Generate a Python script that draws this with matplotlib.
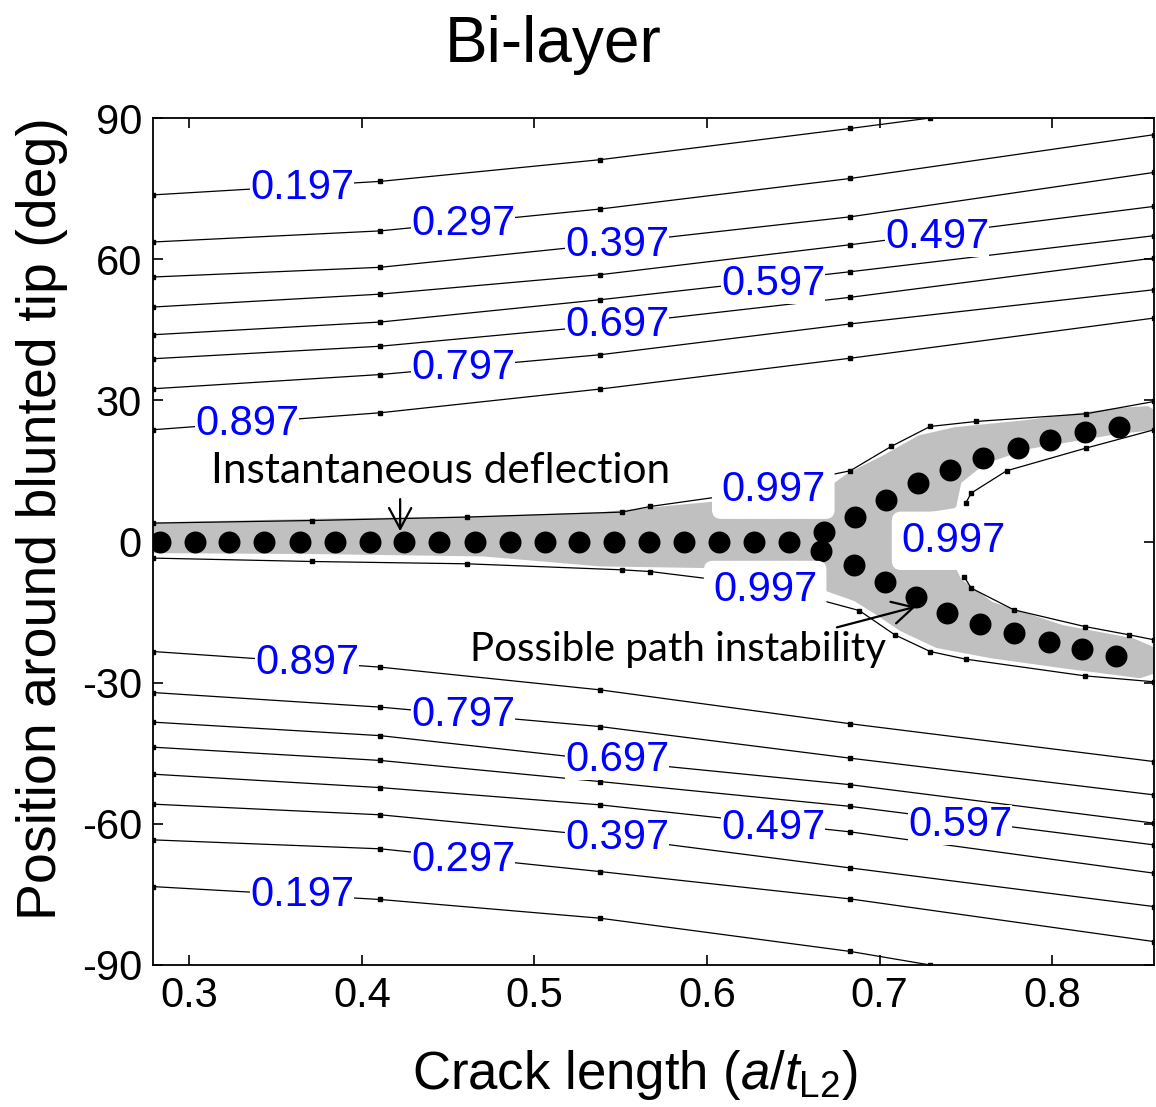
import numpy as np
import matplotlib
matplotlib.use("Agg")
import matplotlib.pyplot as plt
from matplotlib.patches import Polygon

plt.rcParams['font.family'] = ['Liberation Sans', 'DejaVu Sans']
plt.rcParams['mathtext.fontset'] = 'custom'
plt.rcParams['mathtext.rm'] = 'Liberation Sans'
plt.rcParams['mathtext.it'] = 'Liberation Sans:italic'
plt.rcParams['axes.unicode_minus'] = False

# --- contour lines ---
line_x = [0.2791, 0.4107, 0.5381, 0.6830, 0.8591]
top_x = [0.2791, 0.4107, 0.5381, 0.6830, 0.7293]   # lines that leave through top / bottom

upper_y = {
    '0.197': [73.66, 76.53, 81.14, 87.78, 90.0],
    '0.297': [63.65, 66.01, 70.66, 77.15, 86.46],
    '0.397': [56.21, 58.27, 63.07, 69.00, 78.44],
    '0.497': [49.83, 52.57, 56.70, 63.07, 71.22],
    '0.597': [43.94, 46.64, 51.38, 57.33, 64.99],
    '0.697': [38.84, 41.50, 45.85, 51.89, 60.25],
    '0.797': [32.46, 35.48, 39.69, 46.24, 53.51],
    '0.897': [23.75, 27.36, 32.40, 38.95, 47.49],
}
lower_y = {
    '0.897': [-23.38, -26.70, -31.53, -38.73, -46.77],
    '0.797': [-32.10, -35.20, -39.33, -46.05, -53.85],
    '0.697': [-38.39, -41.26, -46.41, -51.68, -59.86],
    '0.597': [-43.71, -46.53, -51.02, -56.29, -64.48],
    '0.497': [-49.45, -52.30, -55.97, -61.71, -70.49],
    '0.397': [-55.82, -58.08, -62.56, -69.37, -77.59],
    '0.297': [-63.41, -65.31, -70.15, -75.96, -85.03],
    '0.197': [-73.34, -76.08, -80.06, -87.12, -90.0],
}

# 0.997 contour pieces
c997_up_x = [0.2791, 0.3711, 0.4609, 0.5507, 0.5671, 0.6152, 0.6830, 0.7067, 0.7293, 0.7560, 0.8197, 0.8591]
c997_up_y = [3.91, 4.46, 5.19, 6.25, 7.44, 9.93, 15.03, 20.20, 24.45, 25.51, 27.15, 29.76]
c997_in1_x = [0.8591, 0.8197, 0.7736, 0.7531, 0.7499]
c997_in1_y = [23.75, 19.86, 15.03, 10.29, 8.16]
c997_in2_x = [0.7489, 0.7531, 0.7778, 0.8189, 0.8446, 0.8591]
c997_in2_y = [-7.44, -9.91, -14.52, -18.07, -19.83, -20.90]
c997_lo_x = [0.2791, 0.3711, 0.4609, 0.5507, 0.5671, 0.6059, 0.6615, 0.6882, 0.7088, 0.7293, 0.7499, 0.8189, 0.8591]
c997_lo_y = [-3.53, -4.25, -4.74, -6.02, -6.38, -8.14, -12.03, -14.67, -19.83, -23.38, -25.0, -28.55, -29.82]

# contour labels: text, x, y
label_text = ['0.197', '0.297', '0.397', '0.497', '0.597', '0.697', '0.797', '0.897',
              '0.897', '0.797', '0.697', '0.597', '0.497', '0.397', '0.297', '0.197']
label_x = [0.3655, 0.4587, 0.5480, 0.7334, 0.6384, 0.5480, 0.4587, 0.3336,
           0.3684, 0.4587, 0.5480, 0.7467, 0.6384, 0.5480, 0.4587, 0.3655]
label_y = [75.2, 67.5, 63.1, 64.8, 54.8, 46.1, 36.9, 25.0,
           -25.8, -36.8, -46.4, -60.2, -60.9, -63.0, -67.7, -75.2]
label997_x = [0.6384, 0.7426, 0.6337]
label997_y = [11.0, 0.15, -10.3]

# crack path dots
trunk_x = [0.2832, 0.3031, 0.3233, 0.3436, 0.3639, 0.3842, 0.4045, 0.4247, 0.4450, 0.4653,
           0.4856, 0.5059, 0.5261, 0.5464, 0.5663, 0.5868, 0.6071, 0.6272, 0.6476]
trunk_y = [0.0] * len(trunk_x)
split_x = [0.668, 0.666]
split_y = [2.0, -2.0]
branch_up_x = [0.686, 0.704, 0.722, 0.741, 0.760, 0.780, 0.799, 0.819, 0.839]
branch_up_y = [5.3, 8.9, 12.4, 15.2, 17.7, 19.9, 21.6, 23.2, 24.4]
branch_lo_x = [0.685, 0.703, 0.721, 0.739, 0.758, 0.778, 0.798, 0.817, 0.837]
branch_lo_y = [-5.1, -8.6, -11.8, -15.2, -17.5, -19.5, -21.4, -22.9, -24.3]

# grey highlight band outline
band_x = [0.2791, 0.3740, 0.4703, 0.5381, 0.6059, 0.6482, 0.6725, 0.6830, 0.7027, 0.7235,
          0.7438, 0.7849, 0.8365, 0.8550, 0.8626,
          0.8626, 0.8365, 0.7849, 0.7600, 0.7455, 0.7426, 0.7129, 0.7079, 0.7088, 0.7148,
          0.7415, 0.7458, 0.7644, 0.8055, 0.8466, 0.8626,
          0.8626, 0.8508, 0.8055, 0.7644, 0.7335, 0.7129, 0.6986, 0.6862, 0.6698, 0.6656,
          0.6410, 0.5998, 0.5381, 0.4703, 0.3740, 0.2791]
band_y = [3.33, 4.09, 4.63, 5.48, 7.81, 9.52, 11.22, 13.98, 17.59, 21.86,
          23.56, 25.05, 27.60, 28.03, 26.31,
          24.57, 23.51, 20.32, 17.13, 12.88, 7.78, 6.08, 3.52, -1.53, -4.29,
          -5.35, -8.54, -13.50, -18.47, -21.30, -23.85,
          -26.87, -28.30, -26.17, -24.05, -21.92, -18.37, -14.82, -11.99, -9.86, -8.81,
          -4.55, -4.91, -4.55, -2.43, -1.94, -1.73]

fig = plt.figure(figsize=(11.56, 11.07), dpi=100)
ax = fig.add_axes([153 / 1156, 1 - 965 / 1107, (1154 - 153) / 1156, (965 - 118) / 1107])

ax.add_patch(Polygon(np.column_stack([band_x, band_y]), closed=True,
                     facecolor='#c0c0c0', edgecolor='#c0c0c0', lw=5,
                     joinstyle='round', zorder=1))

line_kw = dict(color='black', lw=0.9, marker='s', ms=2.2, zorder=2)
for lev, ys in upper_y.items():
    xs = top_x if lev == '0.197' else line_x
    ax.plot(xs, ys, **line_kw)
for lev, ys in lower_y.items():
    xs = top_x if lev == '0.197' else line_x
    ax.plot(xs, ys, **line_kw)
ax.plot(c997_up_x, c997_up_y, **line_kw)
ax.plot(c997_in1_x, c997_in1_y, **line_kw)
ax.plot(c997_in2_x, c997_in2_y, **line_kw)
ax.plot(c997_lo_x, c997_lo_y, **line_kw)

dot_kw = dict(s=250, color='black', zorder=3, linewidths=0)
ax.scatter(trunk_x, trunk_y, **dot_kw)
ax.scatter(split_x, split_y, **dot_kw)
ax.scatter(branch_up_x, branch_up_y, **dot_kw)
ax.scatter(branch_lo_x, branch_lo_y, **dot_kw)

for t, x, y in zip(label_text, label_x, label_y):
    ax.text(x, y, t, color='#0000ff', fontsize=30, ha='center', va='center', zorder=4,
            bbox=dict(boxstyle='square,pad=0.0', fc='white', ec='none'))
for x, y in zip(label997_x, label997_y):
    ax.text(x, y, '0.997', color='#0000ff', fontsize=30, ha='center', va='center', zorder=4,
            bbox=dict(boxstyle='round,pad=0.22', fc='white', ec='none'))

ann_font = ['Lato', 'DejaVu Sans']
arrow_kw = dict(arrowstyle='->,head_length=1.5,head_width=0.8', color='black', lw=1.6)
ax.annotate('', xy=(0.4222, 1.6), xytext=(0.4222, 9.6), arrowprops=arrow_kw, zorder=5)
ax.text(0.4454, 15.0, 'Instantaneous deflection', fontsize=30.5, family=ann_font,
        ha='center', va='center', zorder=5)
ax.annotate('', xy=(0.7225, -13.7), xytext=(0.6737, -18.4), arrowprops=arrow_kw, zorder=5)
ax.text(0.5833, -23.0, 'Possible path instability', fontsize=29, family=ann_font,
        ha='center', va='center', zorder=5)

ax.set_xlim(0.279, 0.859)
ax.set_ylim(-90, 90)
ax.set_xticks([0.3, 0.4, 0.5, 0.6, 0.7, 0.8])
ax.set_yticks([-90, -60, -30, 0, 30, 60, 90])
ax.tick_params(direction='in', length=7, width=1.2, labelsize=30, top=True, right=True, pad=8)
for s in ax.spines.values():
    s.set_linewidth(1.3)

fig.text(553 / 1156, 1 - 45 / 1107, 'Bi-layer', fontsize=46, ha='center', va='center')
fig.text(42 / 1156, 1 - 519 / 1107, 'Position around blunted tip (deg)', fontsize=40,
         rotation=90, ha='center', va='center')
fig.text(635 / 1156, 1 - 1075 / 1107, r'Crack length ($\mathit{a}$/$\mathit{t}_{\mathrm{L2}}$)',
         fontsize=38, ha='center', va='center')

fig.savefig('out.png', dpi=100)
